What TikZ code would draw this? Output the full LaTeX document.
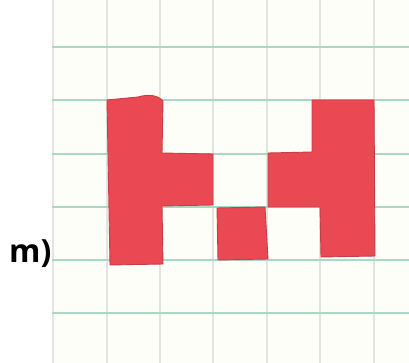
\documentclass[tikz,border=0pt]{standalone}
\usepackage{fontspec}
\newfontfamily\labelfont{Open Sans}
\definecolor{paper}{RGB}{254,254,249}
\definecolor{hline}{RGB}{170,216,200}
\definecolor{vline}{RGB}{226,229,226}
\definecolor{ink}{RGB}{234,72,82}
\definecolor{inkedge}{RGB}{196,62,72}
\begin{document}
\begin{tikzpicture}[x=1pt,y=-1pt,
  hgrid/.style={draw=hline,line width=2.2pt},
  vgrid/.style={draw=vline,line width=2pt},
  blob/.style={fill=ink,draw=inkedge,line width=0.9pt,line join=round}]
\useasboundingbox (0,0) rectangle (409,363);
\fill[white] (0,0) rectangle (409,363);
\fill[paper] (52,0) rectangle (409,363);
% grid
\foreach \x in {53,107,160,213,267,320,374}
  \draw[vgrid] (\x,0) -- (\x,363);
\foreach \y in {47,100,154,207,260,313}
  \draw[hgrid] (52,\y) -- (409,\y);
% red shapes
\path[blob] (107,100) -- (138,97) .. controls (148,94) and (158,95) .. (163,101)
  -- (162,153) -- (213,154) -- (213,205) -- (162,206)
  -- (163,264) -- (110,265) -- cycle;
\path[blob] (217,208) -- (265,207) -- (268,259) -- (218,260) -- cycle;
\path[blob] (268,153) -- (312,152) -- (312,100) -- (374,100)
  -- (375,256) -- (321,257) -- (320,207) -- (268,207) -- cycle;
% label
\node[anchor=base west,inner sep=0pt,font=\labelfont\bfseries\fontsize{32}{32}\selectfont] (lbl) at (9,262) {m)};
\end{tikzpicture}
\end{document}
